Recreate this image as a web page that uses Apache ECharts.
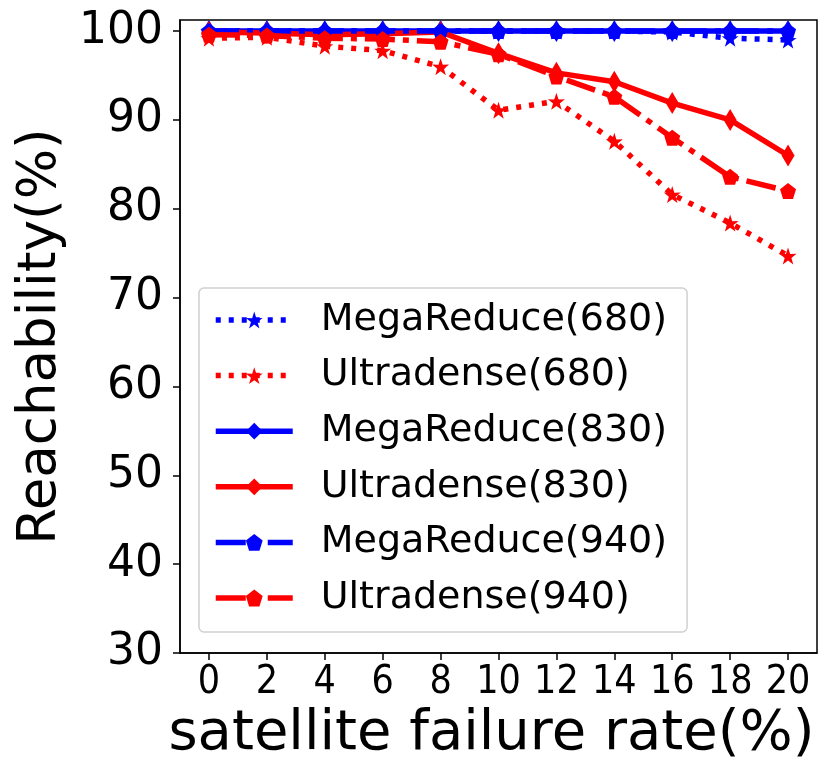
<!DOCTYPE html>
<html><head><meta charset="utf-8">
<script src="https://cdn.jsdelivr.net/npm/echarts@6/dist/echarts.min.js"></script>
<style>html,body{margin:0;padding:0;background:#fff}#c{width:830px;height:781px}</style>
</head><body><div id="c"></div>
<script>
const categories = ['0','2','4','6','8','10','12','14','16','18','20'];
const megaReduce680 = [100,100,100,100,100,100,100,100,99.9,99.2,99.0];
const ultradense680 = [99.2,99.3,98.3,97.8,96.0,91.1,92.1,87.6,81.6,78.4,74.7];
const megaReduce830 = [100,100,100,100,100,100,100,100,100,100,100];
const ultradense830 = [99.9,99.8,99.6,99.7,99.9,97.5,95.3,94.3,91.9,90.0,86.0];
const megaReduce940 = [100,100,100,100,100,100,100,100,100,100,100];
const ultradense940 = [99.6,99.5,99.2,99.1,98.8,97.4,94.9,92.6,88.0,83.6,82.0];
const yTicks = [30,40,50,60,70,80,90,100];

const STAR = 'path://M50,0 L61.8,35.5 L97.6,34.5 L68.8,56.5 L79.4,90.5 L50,70 L20.6,90.5 L31.2,56.5 L2.4,34.5 L38.2,35.5 Z';
const PENT = 'path://M50,0 L100,36.3 L80.9,95.1 L19.1,95.1 L0,36.3 Z';
const DIAM = 'path://M50,0 L80,50 L50,100 L20,50 Z';
const DOT = [5, 8];
const DASHDOT = [30, 8, 6, 8];

function mk(name, data, color, dash, symbol, size) {
  return {
    name, type: 'line', data, symbol, symbolSize: size, showSymbol: true,
    lineStyle: {color, width: 5.5, type: dash},
    itemStyle: {color, borderWidth: 0},
    emphasis: {disabled: true},
    animation: false
  };
}

const chart = echarts.init(document.getElementById('c'));
chart.setOption({
  animation: false,
  textStyle: {fontFamily: 'DejaVu Sans'},
  grid: {left: 180, right: 13, top: 20, bottom: 128, show: true, borderColor: '#000', borderWidth: 1.5},
  xAxis: {
    type: 'category', data: categories, boundaryGap: true,
    name: 'satellite failure rate(%)', nameLocation: 'middle', nameGap: 52,
    nameTextStyle: {fontSize: 56, color: '#000', fontFamily: 'DejaVu Sans', padding: [0, 14, 0, 0]},
    axisLine: {show: true, lineStyle: {color: '#000', width: 1.5}},
    axisTick: {show: true, alignWithLabel: true, length: 7, lineStyle: {color: '#000', width: 1.5}},
    axisLabel: {fontSize: 39, color: '#000', margin: 10, interval: 0, fontFamily: 'DejaVu Sans Condensed'},
    splitLine: {show: false}
  },
  yAxis: {
    type: 'value', min: yTicks[0], max: 101.25, interval: 10,
    name: 'Reachability(%)', nameLocation: 'middle', nameGap: 112,
    nameTextStyle: {fontSize: 53, color: '#000', fontFamily: 'DejaVu Sans'},
    axisLine: {show: true, lineStyle: {color: '#000', width: 1.5}},
    axisTick: {show: true, length: 7, lineStyle: {color: '#000', width: 1.5}},
    axisLabel: {fontSize: 44, color: '#000', margin: 17, showMaxLabel: false},
    splitLine: {show: false}
  },
  legend: {
    orient: 'vertical', left: 199, top: 288,
    backgroundColor: '#fff', borderColor: '#d0d0d0', borderWidth: 1.5, borderRadius: 5,
    padding: [10, 20, 12, 14],
    itemWidth: 77, itemHeight: 21, itemGap: 11.6,
    lineStyle: {width: 'inherit'},
    textStyle: {fontSize: 38, lineHeight: 44, color: '#000', padding: [0, 0, 0, 23]},
    data: ['MegaReduce(680)','Ultradense(680)','MegaReduce(830)','Ultradense(830)','MegaReduce(940)','Ultradense(940)']
  },
  series: [
    mk('MegaReduce(680)', megaReduce680, '#0000ff', DOT, STAR, 17),
    mk('Ultradense(680)', ultradense680, '#ff0000', DOT, STAR, 17),
    mk('MegaReduce(830)', megaReduce830, '#0000ff', 'solid', DIAM, [13, 22]),
    mk('Ultradense(830)', ultradense830, '#ff0000', 'solid', DIAM, [13, 22]),
    mk('MegaReduce(940)', megaReduce940, '#0000ff', DASHDOT, PENT, 16),
    mk('Ultradense(940)', ultradense940, '#ff0000', DASHDOT, PENT, 16)
  ]
});
</script></body></html>
